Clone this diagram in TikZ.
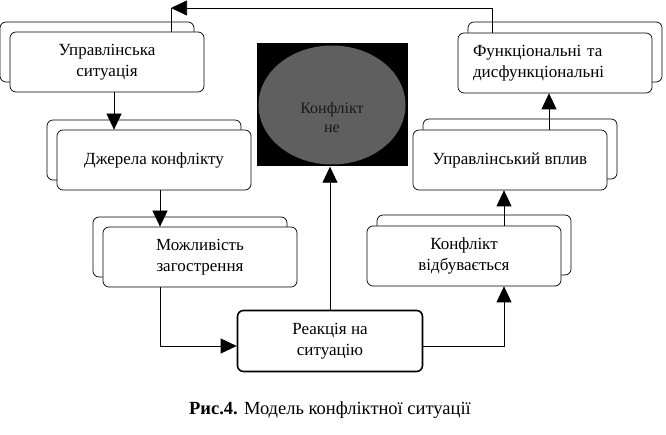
\documentclass[tikz,border=0pt]{standalone}
\usepackage{fontspec}
\setmainfont{Liberation Serif}
\usetikzlibrary{arrows.meta,shadows,shapes.geometric,positioning}

\definecolor{sirij}{HTML}{5F5F5F}

\tikzset{
  blok/.style={draw, line width=0.7pt, rounded corners=6pt, fill=white,
    minimum width=194pt, minimum height=60pt, align=center, inner sep=2pt,
    font=\fontsize{17}{21}\selectfont},
  lblok/.style={blok, copy shadow={shadow xshift=-10pt, shadow yshift=10pt, draw=black, fill=white}},
  rblok/.style={blok, copy shadow={shadow xshift=10pt, shadow yshift=11pt, draw=black, fill=white}},
  strilka/.style={line width=0.7pt, -{Triangle[length=16pt,width=15pt]}},
  linija/.style={line width=0.7pt}
}

\begin{document}
\begin{tikzpicture}[x=1pt,y=-1pt]
  \useasboundingbox (0,0) rectangle (666,435);

  % bloky
  \node[lblok] (sit) at (107,62) {Управлінська\\ситуація};
  \node[lblok] (src) at (154,160) {Джерела конфлікту};
  \node[lblok] (pos) at (200,257) {Можливість\\загострення};
  \node[blok, line width=1.6pt, minimum width=185pt, minimum height=61pt] (react) at (330,341) {Реакція на\\ситуацію};
  \node[rblok] (occ) at (464,256) {Конфлікт\\відбувається};
  \node[rblok] (infl) at (510,160) {Управлінський вплив};
  \node[rblok, text width=164pt, align=left] (func) at (555,63) {Функціональні та\\дисфункціональні};

  % konflikt ne...
  \node[fill=black, minimum width=151pt, minimum height=123pt, inner sep=0pt] (sq) at (332,105) {};
  \node[ellipse, fill=sirij, minimum width=147pt, minimum height=119pt, inner sep=0pt] (conf) at (sq) {};
  \node[font=\fontsize{16}{19}\selectfont, align=center, text=black!90] (conftxt) at ([yshift=-13pt]conf.center) {Конфлікт\\не};

  % strilky
  \coordinate (top) at (171,8);
  \draw[strilka] ([xshift=7pt]sit.south) -- ([xshift=7pt]sit.south |- src.north);
  \draw[strilka] ([xshift=6pt]src.south) -- ([xshift=6pt]src.south |- pos.north);
  \draw[strilka] ([xshift=-40pt]pos.south) |- ([yshift=-5pt]react.west);
  \draw[strilka] (react.north) -- (react.north |- sq.south);
  \draw[strilka] ([yshift=-5pt]react.east) -| ([xshift=40pt]occ.south);
  \draw[strilka] ([xshift=40pt]occ.north) -- ([xshift=40pt]occ.north |- infl.south);
  \draw[strilka] ([xshift=39pt]infl.north) -- ([xshift=39pt]infl.north |- func.south);
  \draw[strilka] ([xshift=-63pt]func.north) |- (top);
  \draw[linija] (top) -- (top |- sit.north);

  % pidpys
  \node[font=\fontsize{18.5}{21}\selectfont] (cap) at (330,410) {\textbf{Рис.4.} Модель конфліктної ситуації};
\end{tikzpicture}
\end{document}
